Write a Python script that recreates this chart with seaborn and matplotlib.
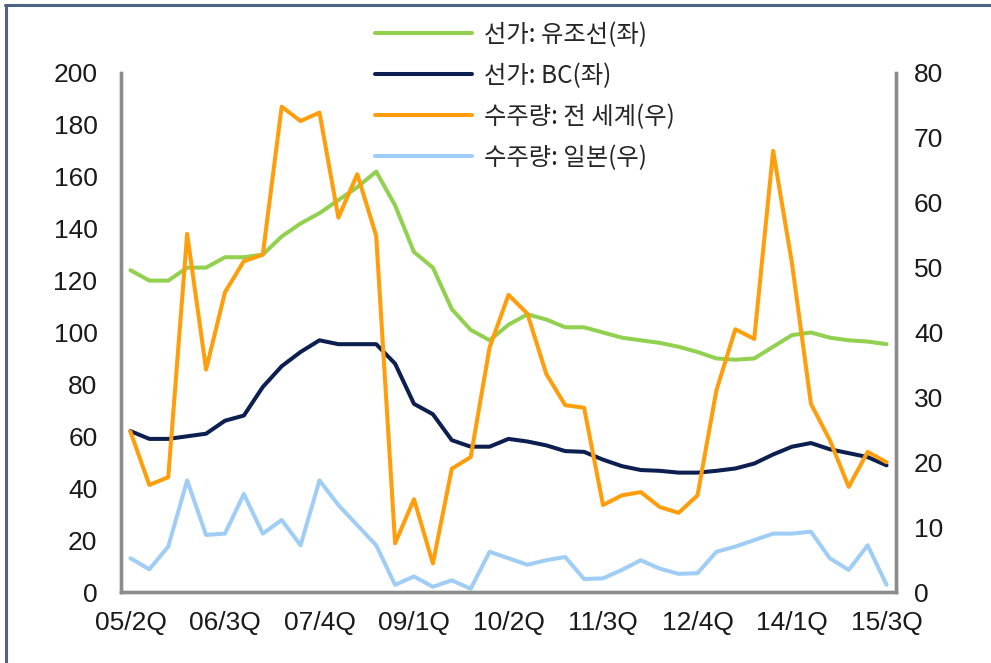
import numpy as np
import pandas as pd
import matplotlib
matplotlib.use("Agg")
import matplotlib.pyplot as plt
from matplotlib.lines import Line2D
import seaborn as sns

# ---- data ----
tick_labels = ["05/2Q", "06/3Q", "07/4Q", "09/1Q", "10/2Q", "11/3Q", "12/4Q", "14/1Q", "15/3Q"]

price_tanker = [124, 120, 120, 125, 125, 129, 129, 130, 137, 142, 146,
                151, 156, 162, 149, 131, 125, 109, 101, 97, 103, 107,
                105, 102, 102, 100, 98, 97, 96, 94.5, 92.5, 90,
                89.5, 90, 94.5, 99, 100, 98, 97, 96.5, 95.5]
price_bc = [62, 59, 59, 60, 61, 66, 68, 79, 87, 92.5, 97,
            95.5, 95.5, 95.5, 88, 72.5, 68.5, 58.5, 56, 56, 59, 58,
            56.5, 54.3, 54, 51, 48.5, 47, 46.7, 46, 46, 46.7,
            47.6, 49.5, 53, 56, 57.4, 55, 53.5, 52, 48.8]
orders_world = [24.7, 16.5, 17.7, 55.2, 34.3, 46.2, 51, 52, 74.8, 72.6, 73.9,
                57.7, 64.4, 54.9, 7.5, 14.3, 4.4, 19, 20.8, 37.7, 45.8, 42.9,
                33.6, 28.8, 28.4, 13.4, 14.9, 15.4, 13.1, 12.2, 14.9, 31.1,
                40.5, 39, 68, 50.6, 29, 23.4, 16.2, 21.6, 20]
orders_japan = [5.2, 3.5, 7, 17.2, 8.8, 9, 15.1, 9, 11.1, 7.2, 17.2,
                13.4, 10.3, 7.2, 1.1, 2.4, 0.8, 1.8, 0.5, 6.2, 5.2, 4.2,
                4.9, 5.4, 2, 2.1, 3.4, 4.9, 3.6, 2.8, 2.9, 6.2,
                7, 8, 9, 9, 9.3, 5.2, 3.4, 7.2, 1.1]

series_names = ["선가: 유조선(좌)", "선가: BC(좌)", "수주량: 전 세계(우)", "수주량: 일본(우)"]
colors = ["#92D050", "#0C1F50", "#FF9D0A", "#9FCDF5"]

# ---- style ----
sns.set_theme(style="white")
plt.rcParams["font.family"] = ["Liberation Sans", "Noto Sans CJK KR", "DejaVu Sans"]

n = len(price_tanker)
df = pd.DataFrame({
    "idx": np.arange(n),
    "tanker": price_tanker,
    "bc": price_bc,
    "world": orders_world,
    "japan": orders_japan,
})

fig = plt.figure(figsize=(9.91, 6.63), dpi=100)
ax = fig.add_axes([121 / 991, 1 - 592 / 663, (896 - 121) / 991, (592 - 73) / 663])
ax2 = ax.twinx()

lw = 2.9
sns.lineplot(data=df, x="idx", y="tanker", ax=ax, color=colors[0], linewidth=lw, label=series_names[0], legend=False)
sns.lineplot(data=df, x="idx", y="bc", ax=ax, color=colors[1], linewidth=lw, label=series_names[1], legend=False)
sns.lineplot(data=df, x="idx", y="japan", ax=ax2, color=colors[3], linewidth=lw, label=series_names[3], legend=False)
sns.lineplot(data=df, x="idx", y="world", ax=ax2, color=colors[2], linewidth=lw, label=series_names[2], legend=False)

ax.set_xlim(-0.5, n - 0.5)
ax.set_ylim(0, 200)
ax2.set_ylim(0, 80)
ax.set_yticks(np.arange(0, 201, 20))
ax2.set_yticks(np.arange(0, 81, 10))
ax.set_xticks(np.arange(0, n, 5))
ax.set_xticklabels(tick_labels)
ax.set_xlabel("")
ax.set_ylabel("")
ax2.set_ylabel("")

fs = 19
tick_color = "#1a1a1a"
ax.tick_params(axis="y", length=0, pad=17, labelsize=fs, labelcolor=tick_color)
ax.tick_params(axis="x", length=0, pad=14, labelsize=fs, labelcolor=tick_color)
ax2.tick_params(axis="y", length=0, pad=13, labelsize=fs, labelcolor=tick_color)

spine_color = "#8C8C8C"
for a in (ax, ax2):
    a.spines["top"].set_visible(False)
    for s in ("left", "right", "bottom"):
        a.spines[s].set_color(spine_color)
        a.spines[s].set_linewidth(2.4)
ax.grid(False)
ax2.grid(False)

# legend (order as in reference)
handles = [Line2D([0], [0], color=c, linewidth=lw) for c in colors]
fig.legend(handles, series_names, loc="upper left",
           bbox_to_anchor=(365 / 991, 1 - 12 / 663),
           frameon=False, prop={"family": ["Noto Sans CJK KR", "DejaVu Sans"], "size": 17.5},
           handlelength=4.0, handletextpad=0.5, labelspacing=0.62, borderaxespad=0)

# outer frame (top and left edges visible in the reference)
frame_color = "#4E6282"
fig.add_artist(Line2D([5 / 991, 1], [1 - 5 / 663, 1 - 5 / 663], transform=fig.transFigure,
                      color=frame_color, linewidth=2.2))
fig.add_artist(Line2D([6 / 991, 6 / 991], [0, 1 - 5 / 663], transform=fig.transFigure,
                      color=frame_color, linewidth=2.2))

fig.savefig("out.png", dpi=100)
